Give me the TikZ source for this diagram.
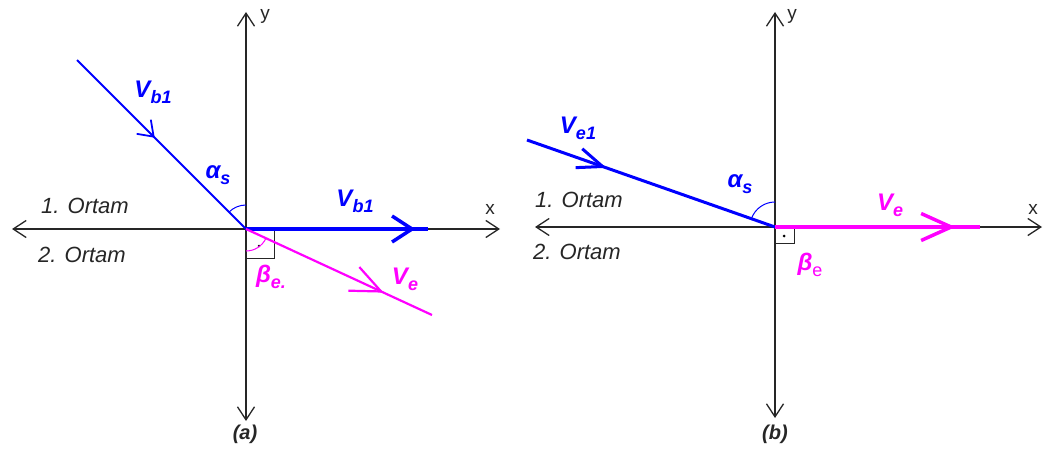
\documentclass[tikz,border=0pt]{standalone}
\usepackage{fontspec}
\setmainfont{Liberation Sans}
\usetikzlibrary{arrows.meta,decorations.markings}
\definecolor{vblue}{RGB}{0,0,255}
\definecolor{vmag}{RGB}{255,0,255}
\newcommand{\vlab}[2]{#1\raisebox{-0.45ex}{\fontsize{18}{18}\selectfont #2}}
\tikzset{
  axis/.style={line width=1.3pt, draw=black!85,
    {Straight Barb[length=13pt,width=17pt]}-{Straight Barb[length=13pt,width=17pt]}},
  midarrow/.style n args={3}{postaction={decorate},decoration={markings,
    mark=at position #1 with {\arrow{Straight Barb[length=#2,width=#3]}}}},
  ortam/.style={font=\fontsize{22}{26}\selectfont\itshape, text=black!85, inner sep=0pt},
  axlabel/.style={font=\fontsize{19}{21}\selectfont, text=black!85, inner sep=0pt},
  vecb/.style={font=\fontsize{24}{28}\selectfont\bfseries\itshape, text=vblue, inner sep=0pt},
  vecm/.style={font=\fontsize{24}{28}\selectfont\bfseries\itshape, text=vmag, inner sep=0pt},
  caption/.style={font=\fontsize{20}{23}\selectfont\bfseries\itshape, text=black!85, inner sep=0pt},
  rightsq/.style={draw=black!85, line width=0.9pt},
}
\begin{document}
\begin{tikzpicture}[x=1pt,y=-1pt]
\useasboundingbox (0,0) rectangle (1044,452);
% ---------------- panel (a)
\coordinate (Oa) at (246,229);
\coordinate (axL) at (12,229);
\coordinate (axR) at (500,229);
\coordinate (ayT) at (246,12);
\coordinate (ayB) at (246,421);
\coordinate (ina) at (77,60);
\coordinate (hba) at (428,229);
\coordinate (mga) at (432,315);
\draw[axis] (axL) -- (axR);
\draw[axis] (ayB) -- (ayT);
\draw[rightsq] (Oa) rectangle ++(28,29);
\fill[black] (259,246) circle (1.3);
\draw[vblue, line width=1.8pt, midarrow={0.46}{14pt}{20pt}] (ina) -- (Oa);
\draw[vblue, line width=3.5pt, midarrow={0.93}{20pt}{26pt}] (Oa) -- (hba);
\draw[vmag, line width=2.2pt, midarrow={0.74}{30pt}{26pt}] (Oa) -- (mga);
\draw[vblue, line width=1pt] (Oa) ++(225:24) arc[start angle=225, end angle=270, radius=24];
\draw[vmag, line width=1pt] (Oa) ++(24.8:22) arc[start angle=24.8, end angle=90, radius=22];
\node[vecb] (lvb1) at (153,92) {\vlab{V}{b1}};
\node[vecb] (las) at (218,175) {\vlab{α}{s}};
\node[vecb] (lvb2) at (355,201) {\vlab{V}{b1}};
\node[vecm] (lve) at (405,279) {\vlab{V}{e}};
\node[vecm] (lbe) at (271,277) {\vlab{β}{e.}};
\node[ortam] (o1a) at (85,206) {1. Ortam};
\node[ortam] (o2a) at (82,255) {2. Ortam};
\node[axlabel] (xa) at (490,209) {x};
\node[axlabel] (ya) at (265,16) {y};
\node[caption] (capa) at (245,434) {(a)};
% ---------------- panel (b)
\coordinate (Ob) at (775,227);
\coordinate (bxL) at (535,227);
\coordinate (bxR) at (1042,227);
\coordinate (byT) at (775,12);
\coordinate (byB) at (775,418);
\coordinate (inb) at (527,140);
\coordinate (mgb) at (980,227);
\draw[axis] (bxL) -- (bxR);
\draw[axis] (byB) -- (byT);
\draw[rightsq] (Ob) rectangle ++(19,16);
\fill[black] (784,236) circle (1.5);
\draw[vblue, line width=3pt, midarrow={0.32}{25pt}{20pt}] (inb) -- (Ob);
\draw[vmag, line width=3.5pt, midarrow={0.88}{30pt}{27pt}] (Ob) -- (mgb);
\draw[vblue, line width=1pt] (Ob) ++(199.3:25) arc[start angle=199.3, end angle=270, radius=25];
\node[vecb] (lve1) at (578,128) {\vlab{V}{e1}};
\node[vecb] (lasb) at (740,184) {\vlab{α}{s}};
\node[vecm] (lveb) at (890,205) {\vlab{V}{e}};
\node[vecm] (lbeb) at (810,265) {\vlab{β}{\upshape\mdseries e}};
\node[ortam] (o1b) at (579,200) {1. Ortam};
\node[ortam] (o2b) at (577,252) {2. Ortam};
\node[axlabel] (xb) at (1033,209) {x};
\node[axlabel] (yb) at (792,16) {y};
\node[caption] (capb) at (775,434) {(b)};
\end{tikzpicture}
\end{document}
